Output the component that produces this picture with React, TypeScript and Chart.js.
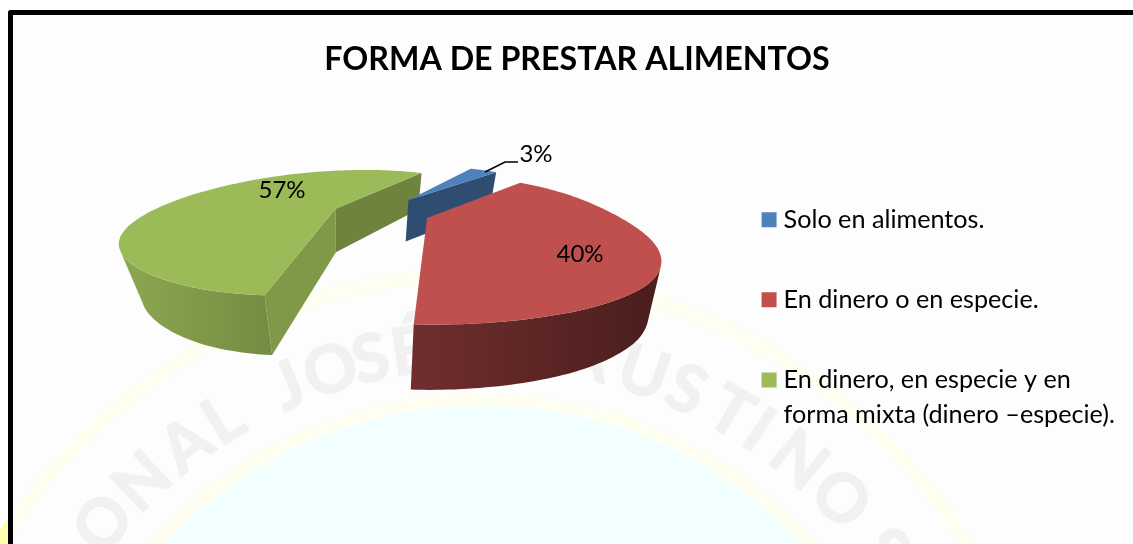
import React, { useEffect, useRef } from "react";
import { Chart, registerables } from "chart.js";

Chart.register(...registerables);

const titleText = "FORMA DE PRESTAR ALIMENTOS";
const categories = [
  "Solo en alimentos.",
  "En dinero o en especie.",
  ["En dinero, en especie y en", "forma mixta (dinero –especie)."],
];
const seriesValues = [3, 40, 57];
const sliceColors = ["#4F81BD", "#C0504D", "#9BBB59"];
const legendColors = ["#4F81BD", "#C0504D", "#9BBB59"];

// watermark letters: [char, angle in degrees from the top of the seal]
const sealLetters: [string, number][] = [
  ["I", -56], ["O", -50], ["N", -43.4], ["A", -36.8], ["L", -31.6],
  ["J", -23.1], ["O", -17.9], ["S", -13.1], ["É", -8.5], ["F", 5], ["A", 12],
  ["U", 18.9], ["S", 24.2], ["T", 30], ["I", 33.8], ["N", 39.6], ["O", 46.2], ["S", 54],
];

// 3D view
const view = { xv: 445, yh: 75, c: 430, cu: -0.4846, cv: 3.132, radius: 1.28 };
const explode = [0.365, 0.38, 0.344];
const startAdj = [0, 2.9, -1.1];
const endAdj = [2.7, -1.1, 0];
// radial shape of each slice along its sweep: [fraction, radius factor]
const rimProfile: [number, number][][] = [
  [[0, 1], [1, 1]],
  [[0, 1], [0.2, 1.01], [0.375, 1.05], [0.45, 1.11], [0.55, 1.18], [0.73, 1.1], [0.92, 1.0], [1, 1]],
  [[0, 1], [0.083, 0.96], [0.146, 0.945], [0.3, 1.03], [0.415, 1.055], [0.63, 1.044], [1, 1.02]],
];
const wallShade = [[0.6, 0.45], [0.58, 0.38], [0.9, 0.6]];
const startFaceShade = [0.6, 0.5, 0.82];
const endFaceShade = [0.6, 0.5, 0.7];
const drawOrder = [2, 0, 1];
const labelAt = [[536, 154], [580, 254], [282, 190]];

const shade = (hex: string, f: number) => {
  const n = parseInt(hex.slice(1), 16);
  const ch = (s: number) => Math.round(((n >> s) & 255) * f);
  return `rgb(${ch(16)},${ch(8)},${ch(0)})`;
};

const project = (U: number, V: number) => {
  const v = V / view.c;
  return { x: view.xv + U / v, y: view.yh + 1 / v };
};
const drop = (p: { x: number; y: number }) => ({
  x: p.x - (p.x - 340) * (p.x < 340 ? 0.1 : 0.04),
  y: p.y + 43 + (p.y - 207) * 0.19,
});
type P = { x: number; y: number };
const area = (q: P[]) => {
  let s = 0;
  q.forEach((a, i) => {
    const b = q[(i + 1) % q.length];
    s += a.x * b.y - b.x * a.y;
  });
  return s;
};
const fillPoly = (ctx: CanvasRenderingContext2D, q: P[], col: any) => {
  ctx.beginPath();
  q.forEach((p, i) => (i ? ctx.lineTo(p.x, p.y) : ctx.moveTo(p.x, p.y)));
  ctx.closePath();
  ctx.fillStyle = col;
  ctx.fill();
};
const profileAt = (prof: [number, number][], t: number) => {
  const tt = Math.max(0, Math.min(1, t));
  for (let i = 1; i < prof.length; i++) {
    if (tt <= prof[i][0]) {
      const [t0, f0] = prof[i - 1];
      const [t1, f1] = prof[i];
      return f0 + ((f1 - f0) * (tt - t0)) / (t1 - t0);
    }
  }
  return prof[prof.length - 1][1];
};
const smoothProfile = (prof: [number, number][], t: number) => {
  let s = 0;
  const m = 8;
  for (let j = -m; j <= m; j++) s += profileAt(prof, t + (j * 0.12) / m);
  return s / (2 * m + 1);
};

const pie3d = {
  id: "pie3d",
  beforeDatasetDraw(chart: any, args: any) {
    const ctx: CanvasRenderingContext2D = chart.ctx;
    const arcs = args.meta.data;
    ctx.save();
    drawOrder.forEach((i) => {
      const arc = arcs[i];
      const { startAngle, endAngle } = arc.getProps(["startAngle", "endAngle"], true);
      const a0 = startAngle + (startAdj[i] * Math.PI) / 180;
      const a1 = endAngle + (endAdj[i] * Math.PI) / 180;
      const col = arc.options.backgroundColor;
      const mid = (startAngle + endAngle) / 2;
      const ou = view.cu + explode[i] * Math.cos(mid);
      const ov = view.cv - explode[i] * Math.sin(mid);
      const n = 120;
      const rim: P[] = [];
      for (let k = 0; k <= n; k++) {
        const t = k / n;
        const a = a0 + (a1 - a0) * t;
        const r = view.radius * smoothProfile(rimProfile[i], t);
        rim.push(project(ou + r * Math.cos(a), ov - r * Math.sin(a)));
      }
      const apex = project(ou, ov);
      const faces: [P, P, number][] = [
        [apex, rim[0], startFaceShade[i]],
        [rim[n], apex, endFaceShade[i]],
      ];
      faces.forEach(([p, q, f]) => {
        const quad = [p, q, drop(q), drop(p)];
        if (area(quad) < 0) fillPoly(ctx, quad, shade(col, f));
      });
      const xs = rim.map((p) => p.x);
      const minX = Math.min(...xs);
      const maxX = Math.max(...xs);
      const grad = ctx.createLinearGradient(minX, 0, maxX, 0);
      grad.addColorStop(0, shade(col, wallShade[i][0]));
      grad.addColorStop(1, shade(col, wallShade[i][1]));
      let run: P[] = [];
      const flush = () => {
        if (run.length > 1) fillPoly(ctx, [...run, ...run.map(drop).reverse()], grad);
        run = [];
      };
      for (let k = 0; k < n; k++) {
        const quad = [rim[k], rim[k + 1], drop(rim[k + 1]), drop(rim[k])];
        if (area(quad) < 0) {
          if (!run.length) run.push(rim[k]);
          run.push(rim[k + 1]);
        } else flush();
      }
      flush();
      fillPoly(ctx, [apex, ...rim], col);
    });
    // percentage labels
    const total = seriesValues.reduce((a, b) => a + b, 0);
    ctx.fillStyle = "#000";
    ctx.font = "24px Lato";
    ctx.textAlign = "center";
    ctx.textBaseline = "middle";
    seriesValues.forEach((v, i) => {
      ctx.fillText(`${Math.round((v / total) * 100)}%`, labelAt[i][0], labelAt[i][1]);
    });
    ctx.beginPath();
    ctx.moveTo(485, 172);
    ctx.lineTo(505, 162);
    ctx.lineTo(518, 162);
    ctx.strokeStyle = "#000";
    ctx.lineWidth = 1.6;
    ctx.stroke();
    ctx.restore();
    return false;
  },
};

const backdrop = {
  id: "backdrop",
  beforeDraw(chart: any) {
    const ctx: CanvasRenderingContext2D = chart.ctx;
    const cx = 483, cy = 842;
    ctx.save();
    ctx.fillStyle = "#FFFFFF";
    ctx.fillRect(0, 0, 1133, 544);
    ctx.beginPath();
    ctx.arc(cx, cy, 568, 0, Math.PI * 2);
    ctx.strokeStyle = "#FFFFAA";
    ctx.lineWidth = 14;
    ctx.stroke();
    ctx.fillStyle = "#FDFDFD";
    ctx.fillRect(8, 10, 1125, 534);
    ctx.beginPath();
    ctx.rect(8, 10, 1125, 534);
    ctx.clip();
    ctx.beginPath();
    ctx.arc(cx, cy, 568, 0, Math.PI * 2);
    ctx.strokeStyle = "#FEFEF1";
    ctx.lineWidth = 14;
    ctx.stroke();
    ctx.beginPath();
    ctx.arc(cx, cy, 436, 0, Math.PI * 2);
    ctx.fillStyle = "#F1FFFF";
    ctx.fill();
    ctx.beginPath();
    ctx.arc(cx, cy, 443, 0, Math.PI * 2);
    ctx.strokeStyle = "#FEFEF1";
    ctx.lineWidth = 12;
    ctx.stroke();
    ctx.fillStyle = "#F1F1F1";
    ctx.strokeStyle = "#F1F1F1";
    ctx.lineWidth = 1.5;
    ctx.lineJoin = "round";
    ctx.font = "bold 66px Lato";
    ctx.textAlign = "center";
    ctx.textBaseline = "middle";
    sealLetters.forEach(([ch, deg]) => {
      const a = (deg * Math.PI) / 180;
      ctx.save();
      ctx.translate(cx + 495 * Math.sin(a), cy - 495 * Math.cos(a));
      ctx.rotate(a);
      ctx.fillText(ch, 0, 0);
      ctx.strokeText(ch, 0, 0);
      ctx.restore();
    });
    ctx.restore();
    // frame
    ctx.save();
    ctx.strokeStyle = "#000";
    ctx.lineWidth = 5;
    ctx.lineJoin = "round";
    ctx.beginPath();
    ctx.moveTo(10.5, 544);
    ctx.lineTo(10.5, 12.5);
    ctx.lineTo(1133, 12.5);
    ctx.stroke();
    ctx.restore();
  },
};

export default function App() {
  const ref = useRef<HTMLCanvasElement>(null);
  useEffect(() => {
    const chart = new Chart(ref.current as HTMLCanvasElement, {
      type: "pie",
      data: {
        labels: categories as any,
        datasets: [{ data: seriesValues, backgroundColor: sliceColors, borderWidth: 0 }],
      },
      options: {
        animation: false,
        responsive: false,
        rotation: 26.3,
        layout: { padding: { top: 14, right: 8, bottom: 51, left: 29 } },
        plugins: {
          title: {
            display: true,
            text: titleText,
            color: "#000",
            font: { family: "Lato", size: 32.2, weight: "bold" },
            padding: { top: 26, bottom: 10 },
          },
          legend: {
            position: "right",
            align: "end",
            labels: {
              boxWidth: 3.8,
              boxHeight: 15,
              usePointStyle: true,
              padding: 55,
              color: "#000",
              font: { family: "Lato", size: 25.2, lineHeight: 1.4 },
              generateLabels: () =>
                categories.map((text, i) => ({
                  text,
                  fillStyle: legendColors[i],
                  strokeStyle: legendColors[i],
                  lineWidth: 0,
                  pointStyle: "rect",
                  rotation: 0,
                  index: i,
                })) as any,
            },
          },
          tooltip: { enabled: false },
        },
      },
      plugins: [backdrop, pie3d],
    } as any);
    return () => chart.destroy();
  }, []);
  return (
    <div style={{ position: "absolute", left: 0, top: 0, width: 1133, height: 544 }}>
      <canvas ref={ref} width={1133} height={544} style={{ display: "block" }} />
    </div>
  );
}
